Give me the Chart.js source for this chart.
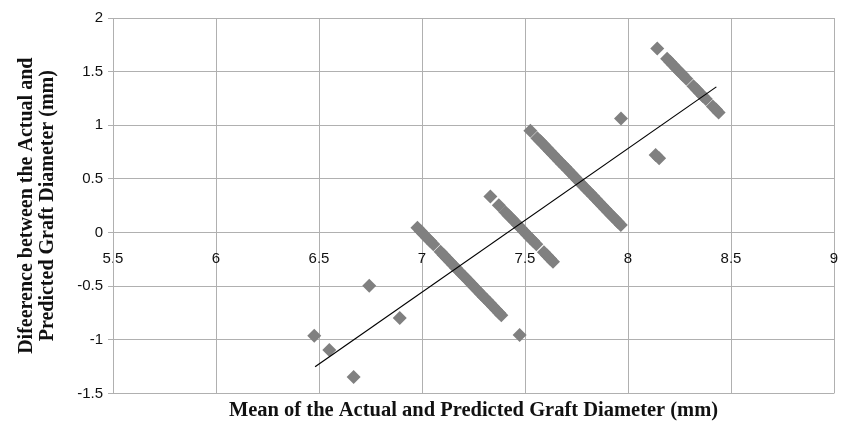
<!DOCTYPE html>
<html>
<head>
<meta charset="utf-8">
<script src="https://cdn.jsdelivr.net/npm/chart.js@4"></script>
<style>
  html, body { margin: 0; padding: 0; background: #fff; }
  #wrap { width: 841px; height: 425px; }
</style>
</head>
<body>
<div id="wrap"><canvas id="chart" width="841" height="425"></canvas></div>
<script>
// === data ===

// axis ticks
const X_TICKS = [5.5, 6, 6.5, 7, 7.5, 8, 8.5, 9];
const Y_TICKS = [-1.5, -1, -0.5, 0, 0.5, 1, 1.5, 2];

// isolated points (mean, difference)
const loneMean = [6.477, 6.55, 6.668, 6.744, 6.892, 7.474, 7.966, 8.134, 8.151];
const loneDiff = [-0.963, -1.096, -1.346, -0.495, -0.797, -0.956, 1.062, 0.724, 0.692];

// band around mean 7.0 - 7.4
const bandAMean = [6.978, 6.993, 7.008, 7.024, 7.04, 7.055,
  7.09, 7.105, 7.12, 7.135, 7.15, 7.165, 7.18, 7.195, 7.21, 7.225, 7.24,
  7.255, 7.27, 7.285, 7.3, 7.315, 7.33, 7.345, 7.36, 7.375, 7.385];
const bandADiff = [0.044, 0.014, -0.016, -0.048, -0.08, -0.11,
  -0.18, -0.21, -0.24, -0.27, -0.3, -0.33, -0.36, -0.39, -0.42, -0.45, -0.48,
  -0.51, -0.54, -0.57, -0.6, -0.63, -0.66, -0.69, -0.72, -0.75, -0.77];

// band around mean 7.3 - 7.65
const bandBMean = [7.332, 7.373,
  7.405, 7.42, 7.435, 7.45, 7.465, 7.48, 7.495, 7.51, 7.525, 7.54, 7.555,
  7.592, 7.607, 7.622, 7.636];
const bandBDiff = [0.336, 0.254,
  0.19, 0.16, 0.13, 0.1, 0.07, 0.04, 0.01, -0.02, -0.05, -0.08, -0.11,
  -0.184, -0.214, -0.244, -0.272];

// band around mean 7.5 - 8.0
const bandCMean = [7.526,
  7.56, 7.575, 7.59, 7.605, 7.62, 7.635, 7.65, 7.665, 7.68, 7.695, 7.71,
  7.725, 7.74, 7.755, 7.77, 7.785, 7.8, 7.815, 7.83, 7.845, 7.86, 7.875,
  7.89, 7.905, 7.92, 7.935, 7.95, 7.965];
const bandCDiff = [0.948,
  0.88, 0.85, 0.82, 0.79, 0.76, 0.73, 0.7, 0.67, 0.64, 0.61, 0.58,
  0.55, 0.52, 0.49, 0.46, 0.43, 0.4, 0.37, 0.34, 0.31, 0.28, 0.25,
  0.22, 0.19, 0.16, 0.13, 0.1, 0.07];

// band around mean 8.1 - 8.45
const bandDMean = [8.142,
  8.19, 8.205, 8.22, 8.235, 8.25, 8.265, 8.283,
  8.318, 8.333, 8.348, 8.363, 8.378,
  8.412, 8.427, 8.44];
const bandDDiff = [1.716,
  1.62, 1.59, 1.56, 1.53, 1.5, 1.47, 1.434,
  1.364, 1.334, 1.304, 1.274, 1.244,
  1.176, 1.146, 1.12];

// linear trend line end points
const trendMean = [6.481, 8.429];
const trendDiff = [-1.252, 1.358];

const X_TITLE = "Mean of the Actual and Predicted Graft Diameter (mm)";
const Y_TITLE = ["Difeerence between the Actual and", "Predicted Graft Diameter (mm)"];

// pair two arrays into {x, y} points
function pairUp(xs, ys) {
  return xs.map((x, i) => ({ x: x, y: ys[i] }));
}

const scatterPoints = [].concat(
  pairUp(loneMean, loneDiff),
  pairUp(bandAMean, bandADiff),
  pairUp(bandBMean, bandBDiff),
  pairUp(bandCMean, bandCDiff),
  pairUp(bandDMean, bandDDiff)
);

const GRID = "#b0b0b0";
const SERIF = "'Liberation Serif', 'Times New Roman', serif";
const TICK_FONT = { family: "'Liberation Sans', Arial, sans-serif", size: 15 };

new Chart(document.getElementById("chart"), {
  type: "scatter",
  data: {
    datasets: [
      {
        label: "trend",
        data: pairUp(trendMean, trendDiff),
        showLine: true,
        borderColor: "#000",
        borderWidth: 1.2,
        pointRadius: 0,
        order: 0,
      },
      {
        label: "difference",
        data: scatterPoints,
        pointStyle: "rectRot",
        pointRadius: 7,
        pointHoverRadius: 7,
        backgroundColor: "#808080",
        borderWidth: 0,
        order: 1,
      },
    ],
  },
  options: {
    responsive: false,
    animation: false,
    layout: { padding: { top: 18, right: 3, left: 0, bottom: 0 } },
    plugins: {
      legend: { display: false },
      tooltip: { enabled: false },
      title: {
        display: true,
        position: "bottom",
        fullSize: false,
        text: X_TITLE,
        color: "#111",
        font: { family: SERIF, size: 20.5, weight: "bold", lineHeight: 1.1 },
        padding: { top: 6, bottom: 3 },
      },
    },
    scales: {
      x: {
        type: "linear",
        position: { y: 0 },
        min: X_TICKS[0],
        max: X_TICKS[X_TICKS.length - 1],
        afterBuildTicks: (s) => { s.ticks = X_TICKS.map(v => ({ value: v })); },
        afterFit: (s) => { s.paddingLeft = 0; s.paddingRight = 0; },
        ticks: {
          color: "#111",
          font: TICK_FONT,
          padding: 17,
          maxRotation: 0,
          callback: (v) => String(v),
        },
        grid: { color: GRID, lineWidth: 1, drawTicks: false },
        border: { color: GRID, width: 1 },
      },
      y: {
        type: "linear",
        min: Y_TICKS[0],
        max: Y_TICKS[Y_TICKS.length - 1],
        afterBuildTicks: (s) => { s.ticks = Y_TICKS.map(v => ({ value: v })); },
        afterFit: (s) => { s.width = 113; },
        ticks: {
          color: "#111",
          font: TICK_FONT,
          padding: 5,
          callback: (v) => String(v),
        },
        grid: { color: GRID, lineWidth: 1, tickLength: 5 },
        border: { color: GRID, width: 1 },
        title: {
          display: true,
          text: Y_TITLE,
          color: "#111",
          font: { family: SERIF, size: 20, weight: "bold", lineHeight: 1.05 },
          padding: { top: 16, bottom: 0 },
        },
      },
    },
  },
});
</script>
</body>
</html>
